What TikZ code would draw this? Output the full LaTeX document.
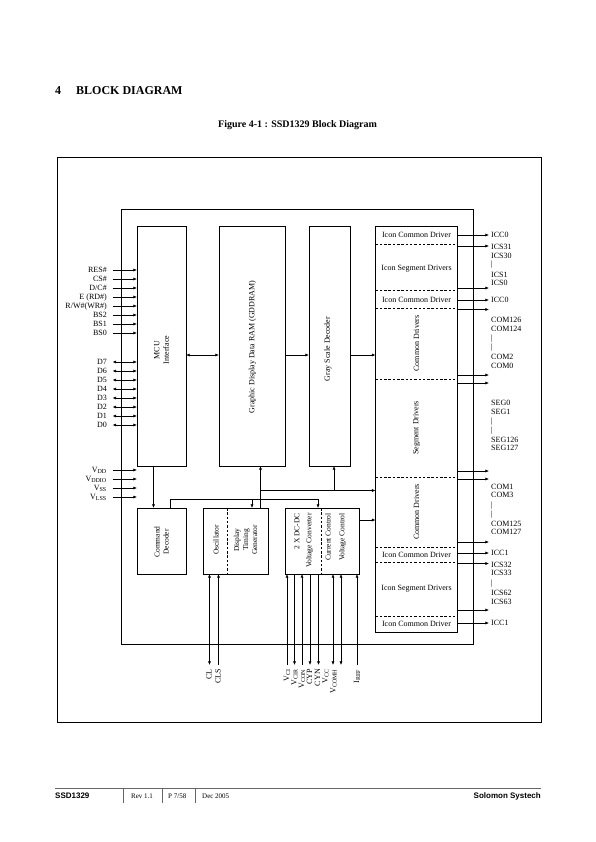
\documentclass[tikz,border=0pt]{standalone}
\usepackage{fontspec}
\setmainfont{Liberation Serif}
\newfontfamily\footsans{Liberation Sans}
\usetikzlibrary{arrows.meta,positioning}
\tikzset{
      blockbox/.style={
        draw,
        line width=0.7pt,
        inner sep=0pt,
        outer sep=0pt
      },
      blocktext/.style={
        rotate=90,
        align=center,
        inner sep=0pt,
        font=\fontsize{8}{9.5}\selectfont
      },
      smalltext/.style={
        blocktext,
        font=\fontsize{7.5}{9}\selectfont
      },
      celltext/.style={
        inner sep=0pt,
        font=\fontsize{8}{9.5}\selectfont
      },
      pintext/.style={
        inner sep=0pt,
        text height=5.5pt,
        text depth=1.5pt,
        font=\fontsize{8}{9}\selectfont
      },
      sig/.style={line width=0.6pt},
      divider/.style={line width=0.6pt, dash pattern=on 2.5pt off 1.8pt},
      >={Latex[length=3.6pt,width=3pt]}
    }

\begin{document}
\begin{tikzpicture}[x=1pt,y=-1pt]
    \useasboundingbox (0,0) rectangle (595,842);
    % heading and caption
    \node[anchor=west, inner sep=0pt, font=\fontsize{12}{14}\selectfont\bfseries] (secno) at (55,91) {4};
    \node[anchor=west, inner sep=0pt, font=\fontsize{12}{14}\selectfont\bfseries] (sectitle) at (76,91) {BLOCK DIAGRAM};
    \node[inner sep=0pt, font=\fontsize{10}{12}\selectfont\bfseries] (caption) at (297.5,125) {Figure 4-1 : SSD1329 Block Diagram};
    % frame and chip outline
    \node[blockbox, minimum width=484pt, minimum height=565pt] (frame) at (299,439.5) {};
    \node[blockbox, minimum width=352pt, minimum height=435pt] (chip) at (297,426.5) {};
    % upper blocks
    \node[blockbox, minimum width=49pt, minimum height=240pt] (mcu) at (161.5,346) {};
    \node[blockbox, minimum width=66pt, minimum height=240pt] (ram) at (252,346) {};
    \node[blockbox, minimum width=41pt, minimum height=240pt] (gsd) at (329.5,346) {};
    \node[blockbox, minimum width=82pt, minimum height=406pt] (drv) at (416.5,429) {};
    \node[blocktext] (mcutxt) at (161.5,350) {MCU\\Interface};
    \node[blocktext] (ramtxt) at (252.5,347) {Graphic Display Data RAM (GDDRAM)};
    \node[blocktext] (gsdtxt) at (328,349) {Gray Scale Decoder};
    % driver column
    \foreach \y in {244,290,308,379,477,547,562,616}
      \draw[divider] (drv.west |- 0,\y) -- (drv.east |- 0,\y);
    \node[celltext] (icc0a) at (416.5,235) {Icon Common Driver};
    \node[celltext] (icsa) at (416.5,269) {Icon Segment Drivers};
    \node[celltext] (icc0b) at (416.5,299.5) {Icon Common Driver};
    \node[blocktext] (coma) at (416.5,343.5) {Common Drivers};
    \node[blocktext] (segs) at (416.5,428) {Segment Drivers};
    \node[blocktext] (comb) at (416.5,512) {Common Drivers};
    \node[celltext] (icc1a) at (416.5,554.5) {Icon Common Driver};
    \node[celltext] (icsb) at (416.5,589) {Icon Segment Drivers};
    \node[celltext] (icc1b) at (416.5,624) {Icon Common Driver};
    % lower blocks
    \node[blockbox, minimum width=49pt, minimum height=66pt] (cmd) at (161.5,541) {};
    \node[blockbox, minimum width=65pt, minimum height=66pt] (osc) at (235.5,541) {};
    \node[blockbox, minimum width=74pt, minimum height=66pt] (dcdc) at (322.5,541) {};
    \draw[divider] (227.5,508) -- (227.5,574);
    \draw[divider] (321.7,508) -- (321.7,574);
    \node[smalltext] (cmdtxt) at (161.5,542) {Command\\Decoder};
    \node[smalltext] (osctxt) at (216,540) {Oscillator};
    \node[smalltext] (dtgtxt) at (245.5,540) {Display\\Timing\\Generator};
    \node[smalltext, anchor=east] (dctxta) at (297,513) {2 X DC-DC};
    \node[smalltext, anchor=east] (dctxtb) at (309.5,513) {Voltage Converter};
    \node[smalltext, anchor=east] (dctxtc) at (328,513) {Current Control};
    \node[smalltext, anchor=east] (dctxtd) at (342.5,513) {Voltage Control};
    % data path
    \coordinate (datarow) at (0,355);
    \draw[sig, <->] (mcu.east |- datarow) -- (ram.west |- datarow);
    \draw[sig, ->] (ram.east |- datarow) -- (gsd.west |- datarow);
    \draw[sig, ->] (gsd.east |- datarow) -- (drv.west |- datarow);
    % control buses
    \coordinate (tbus) at (0,490.5);
    \coordinate (cbus) at (0,499.5);
    \coordinate (cmdup) at ([xshift=8.5pt]cmd.north);
    \coordinate (oscin) at ([xshift=16.5pt]osc.north);
    \coordinate (oscout) at ([xshift=25pt]osc.north);
    \coordinate (dcin) at ([xshift=-4.5pt]dcdc.north);
    \coordinate (gsdin) at ([xshift=4.5pt]gsd.south);
    \coordinate (dcout) at ([yshift=-12pt]dcdc.north east);
    \draw[sig, ->] ([xshift=-8pt]mcu.south) -- ([xshift=-8pt]cmd.north);
    \draw[sig, ->] (cmdup) |- (cbus -| dcin) -- (dcin);
    \draw[sig, ->] (cbus -| oscin) -- (oscin);
    \draw[sig, ->] (oscout) -- (ram.south -| oscout);
    \draw[sig, ->] (tbus -| oscout) -- (tbus -| drv.west);
    \draw[sig, ->] (tbus -| gsdin) -- (gsdin);
    \draw[sig, ->] (dcout) -- (dcout -| drv.west);
    % MCU pins
    \foreach \t [count=\i] in {RES\#, CS\#, D/C\#, E (RD\#), R/W\#(WR\#), BS2, BS1, BS0} {
      \node[pintext, anchor=east] (ctl\i) at (107,261+9*\i) {\t};
      \draw[sig, ->] ([xshift=5.5pt]ctl\i.east) -- (mcu.west |- ctl\i.east);
    }
    \foreach \t [count=\i] in {D7, D6, D5, D4, D3, D2, D1, D0} {
      \node[pintext, anchor=east] (dat\i) at (107,353+9*\i) {\t};
      \draw[sig, <->] ([xshift=5.5pt]dat\i.east) -- (mcu.west |- dat\i.east);
    }
    \foreach \t [count=\i] in {V\textsubscript{DD}, V\textsubscript{DDIO}, V\textsubscript{SS}, V\textsubscript{LSS}} {
      \node[pintext, anchor=east] (pwr\i) at (107,461+9*\i) {\t};
      \draw[sig, ->] ([xshift=5.5pt]pwr\i.east) -- (mcu.west |- pwr\i.east);
    }
    % driver outputs
    \foreach \y [count=\i] in {235,246,288,300,309.5,375,383,471,479,542,553,563.5,610,623} {
      \coordinate (out\i) at (489,\y);
      \draw[sig, ->] (drv.east |- out\i) -- (out\i);
    }
    \foreach \y/\t [count=\i] in {235/ICC0, 247/ICS31, 256/ICS30, 264.5/|, 275/ICS1, 283/ICS0, 300/ICC0,
        320/COM126, 329/COM124, 338/|, 347/|, 357/COM2, 366/COM0,
        403/SEG0, 412/SEG1, 421/|, 430/|, 440/SEG126, 448.5/SEG127,
        487/COM1, 495.5/COM3, 505/|, 514/|, 524/COM125, 532/COM127,
        553/ICC1, 565/ICS32, 573.5/ICS33, 583/|, 593/ICS62, 602/ICS63, 623/ICC1}
      \node[pintext, anchor=west] (rl\i) at (491,\y) {\t};
    % bottom pins
    \coordinate (pcl) at (209.5,665);
    \coordinate (pcls) at (218.5,665);
    \coordinate (pvci) at (287,665);
    \coordinate (pvcir) at (294.5,665);
    \coordinate (pvcon) at (302,665);
    \coordinate (pcyp) at (310,665);
    \coordinate (pcyn) at (318.5,665);
    \coordinate (pvcc) at (333,665);
    \coordinate (pvcomh) at (341,665);
    \coordinate (piref) at (357,665);
    \draw[sig, <->] (osc.south -| pcl) -- (pcl);
    \draw[sig, <-] (osc.south -| pcls) -- (pcls);
    \draw[sig, <-] (dcdc.south -| pvci) -- (pvci);
    \draw[sig, ->] (dcdc.south -| pvcir) -- (pvcir);
    \draw[sig, <-] (dcdc.south -| pvcon) -- (pvcon);
    \draw[sig, ->] (dcdc.south -| pcyp) -- (pcyp);
    \draw[sig, ->] (dcdc.south -| pcyn) -- (pcyn);
    \draw[sig, <->] (dcdc.south -| pvcc) -- (pvcc);
    \draw[sig, <->] (dcdc.south -| pvcomh) -- (pvcomh);
    \draw[sig, <-] (dcdc.south -| piref) -- (piref);
    \foreach \x/\t [count=\i] in {209.5/CL, 218.5/CLS, 287/V\textsubscript{CI}, 294.5/V\textsubscript{CIR},
        302/V\textsubscript{CON}, 310/CYP, 318/CYN, 325.5/V\textsubscript{CC}, 333.5/V\textsubscript{COMH}, 357/I\textsubscript{REF}}
      \node[pintext, rotate=90, anchor=east] (bl\i) at (\x,669) {\t};
    % footer
    \draw[line width=0.9pt, black!60] (55,788) -- (541,788);
    \node[anchor=west, inner sep=0pt, font=\footsans\fontsize{8}{9}\selectfont\bfseries] (ftchip) at (55,796) {SSD1329};
    \node[anchor=west, inner sep=0pt, font=\fontsize{7}{8}\selectfont] (ftrev) at (131,796) {Rev 1.1};
    \node[anchor=west, inner sep=0pt, font=\fontsize{7}{8}\selectfont] (ftpage) at (168,796) {P 7/58};
    \node[anchor=west, inner sep=0pt, font=\fontsize{7}{8}\selectfont] (ftdate) at (202,796) {Dec 2005};
    \node[anchor=east, inner sep=0pt, font=\footsans\fontsize{8}{9}\selectfont\bfseries] (ftco) at (541,796) {Solomon Systech};
    \foreach \x in {123,162,195}
      \draw[line width=0.5pt, black!60] (\x,788) -- (\x,803);
    \end{tikzpicture}
\end{document}
